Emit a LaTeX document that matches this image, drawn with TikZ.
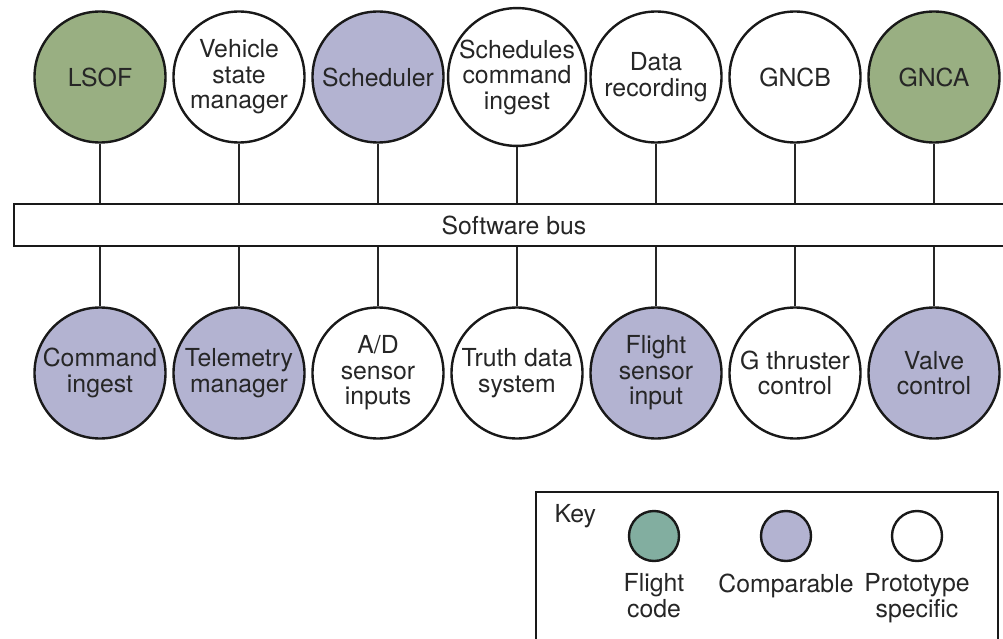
\documentclass[tikz,border=0pt]{standalone}
\usepackage{fontspec}
\setmainfont{TeX Gyre Heros}
\begin{document}
\begin{tikzpicture}[x=1pt,y=-1pt,
  every node/.style={font=\fontsize{24.8}{25.5}\selectfont, text=black!85},
  mod/.style={circle, draw=black!90, line width=2.4pt, minimum size=131pt, inner sep=0pt, align=center},
  fc/.style={mod, fill=flightgreen},
  cp/.style={mod, fill=comppurple},
  pt/.style={mod, fill=white},
  keyc/.style={circle, draw=black!90, line width=2.4pt, minimum size=50pt, inner sep=0pt},
  link/.style={line width=1.8pt, draw=black!85},
  ]
\definecolor{flightgreen}{HTML}{99AF82}
\definecolor{comppurple}{HTML}{B3B3D1}
\definecolor{keyteal}{HTML}{82AEA0}
\useasboundingbox (0,0) rectangle (1003,639);
% bus
\node[draw=black!90, line width=2.2pt, minimum width=1002pt, minimum height=42pt, inner sep=0pt, anchor=north west] (bus) at (13,203) {};
\node at (514,225) {Software bus};
% top
\node[fc] (t1) at (100,77) {LSOF};
\node[pt] (t2) at (239,77) {Vehicle\\state\\manager};
\node[cp] (t3) at (378,77) {Scheduler};
\node[pt] (t4) at (517,77) {Schedules\\command\\ingest};
\node[pt] (t5) at (656,77) {Data\\recording};
\node[pt] (t6) at (795,77) {GNCB};
\node[fc] (t7) at (934,77) {GNCA};
% bottom
\node[cp] (b1) at (100,373) {Command\\ingest};
\node[cp] (b2) at (239,373) {Telemetry\\manager};
\node[pt] (b3) at (378,373) {A/D\\sensor\\inputs};
\node[pt] (b4) at (517,373) {Truth data\\system};
\node[cp] (b5) at (656,373) {Flight\\sensor\\input};
\node[pt] (b6) at (795,373) {G thruster\\control};
\node[cp] (b7) at (934,373) {Valve\\control};
\foreach \i in {1,...,7}{
  \draw[link] (t\i.south) -- (t\i.south |- bus.north);
  \draw[link] (b\i.north) -- (b\i.north |- bus.south);
}
% key
\node[draw=black!90, line width=2.2pt, minimum width=462pt, minimum height=160pt, inner sep=0pt, anchor=north west] (key) at (535,491) {};
\node[anchor=west] (keyt) at (551,516) {Key};
\node[keyc, fill=keyteal] (k1) at (654,536) {};
\node[keyc, fill=comppurple] (k2) at (786,536) {};
\node[keyc, fill=white] (k3) at (917,536) {};
\node[align=center, anchor=north] (l1) at (654,570) {Flight\\code};
\node[align=center, anchor=north] (l2) at (786,570) {Comparable};
\node[align=center, anchor=north] (l3) at (917,570) {Prototype\\specific};
\end{tikzpicture}
\end{document}
